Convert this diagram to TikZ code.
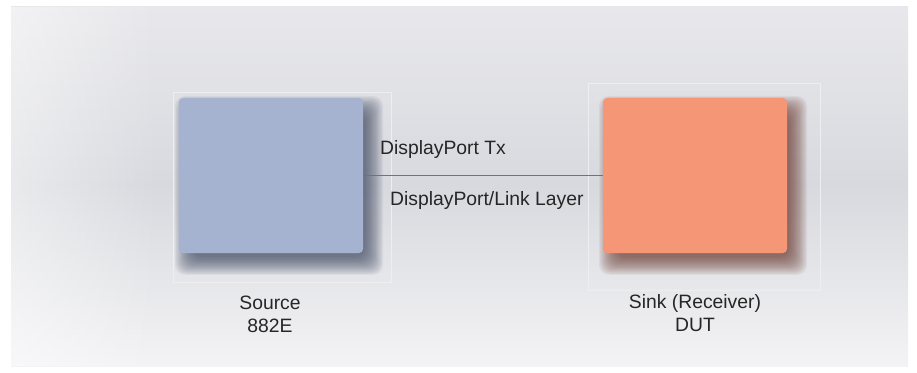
\documentclass[tikz,border=0pt]{standalone}
\usepackage{fontspec}
\setmainfont{Liberation Sans}
\usetikzlibrary{fadings}
\definecolor{srcblue}{RGB}{165,179,209}
\definecolor{snkred}{RGB}{245,150,119}
\definecolor{srcshade}{RGB}{60,70,95}
\definecolor{snkshade}{RGB}{105,55,45}
\definecolor{panelmid}{RGB}{216,217,222}
\definecolor{paneltop}{RGB}{232,232,236}
\definecolor{panelbot}{RGB}{243,243,245}
\tikzset{
box/.style={rounded corners=0.12cm,minimum width=5.52cm,minimum height=4.65cm,inner sep=0pt},
lbl/.style={font=\fontsize{16.5}{19.5}\selectfont,text=black!85,align=center}
}
\begin{document}
\begin{tikzpicture}[x=0.03cm,y=-0.03cm]
\useasboundingbox (0,0) rectangle (917,373);
\fill[white] (0,0) rectangle (917,373);
\shade[top color=paneltop,bottom color=panelbot,middle color=panelmid] (11,7) rectangle (908,366);
\fill[white,opacity=0.45,path fading=east] (11,7) rectangle (160,366);
% faint frames
\draw[white!55!panelmid,line width=0.5pt] (173,92) rectangle (391,282);
\draw[white!55!panelmid,line width=0.5pt] (588,83) rectangle (820,290);
% shadows
\foreach \i in {0,1,...,15}
\fill[srcshade,opacity=0.065,rounded corners=0.3cm] (187-12+\i*1.2,108-12+\i*1.2) rectangle (371+12-\i*1.2,263+12-\i*1.2);
\foreach \i in {0,1,...,15}
\fill[snkshade,opacity=0.065,rounded corners=0.3cm] (611-12+\i*1.2,108-12+\i*1.2) rectangle (795+12-\i*1.2,263+12-\i*1.2);
% boxes
\node[box,fill=srcblue] (src) at (271,175.5) {};
\node[box,fill=snkred] (snk) at (695,175.5) {};
\draw[black!55,line width=0.8pt] (src.east)--(snk.west);
\node[lbl,anchor=west] (tx) at (376,150) {DisplayPort Tx};
\node[lbl,anchor=west] (link) at (386,201) {DisplayPort/Link Layer};
\node[lbl] (srcl) at (270,314.5) {Source\\882E};
\node[lbl] (snkl) at (695,313.5) {Sink (Receiver)\\DUT};
\end{tikzpicture}
\end{document}
